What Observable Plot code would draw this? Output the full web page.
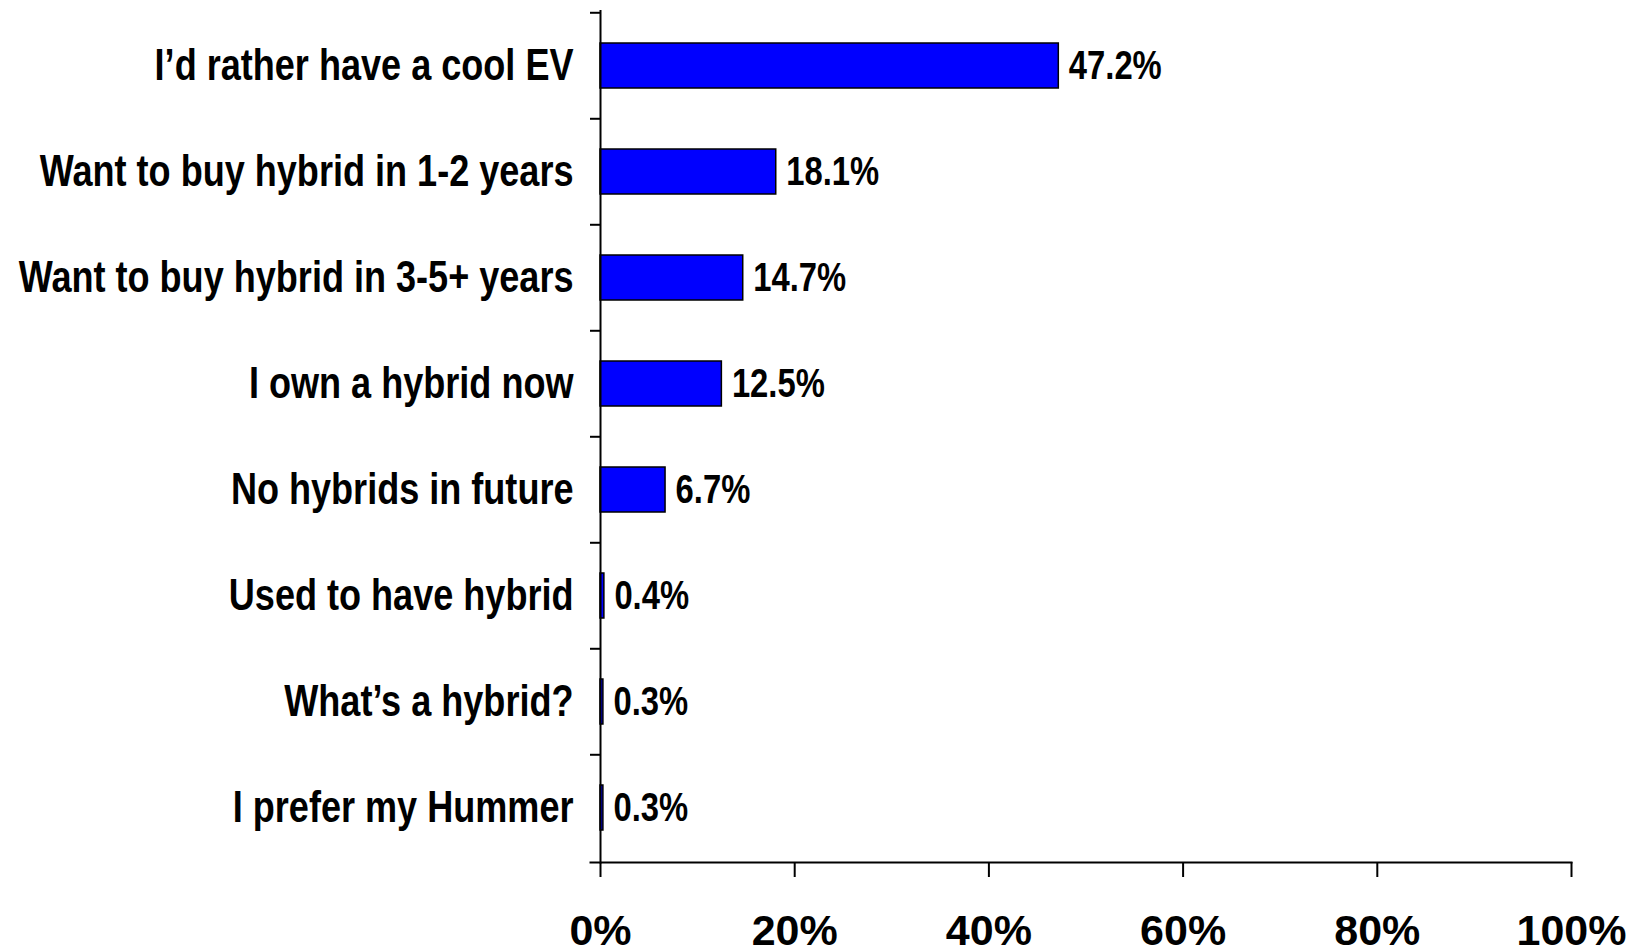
<!DOCTYPE html>
<html>
<head>
<meta charset="utf-8">
<script src="https://cdn.jsdelivr.net/npm/d3@7"></script>
<script src="https://cdn.jsdelivr.net/npm/@observablehq/plot@0.6"></script>
<style>
  html, body { margin: 0; padding: 0; background: #fff; }
  #chart svg { display: block; }
</style>
</head>
<body>
<div id="chart"></div>
<script>
// Survey answers about hybrid vehicles, share of respondents (%)
const categories = [
  "I’d rather have a cool EV",
  "Want to buy hybrid in 1-2 years",
  "Want to buy hybrid in 3-5+ years",
  "I own a hybrid now",
  "No hybrids in future",
  "Used to have hybrid",
  "What’s a hybrid?",
  "I prefer my Hummer"
];
const values = [47.2, 18.1, 14.7, 12.5, 6.7, 0.4, 0.3, 0.3];
const xTicks = [0, 20, 40, 60, 80, 100];

const data = categories.map((c, i) => ({category: c, value: values[i]}));

const W = 1643, H = 949;
const mTop = 10.5, mBottom = 87, mLeft = 600, mRight = 72;
const step = (H - mTop - mBottom) / categories.length;

const sans = "'Liberation Sans', Arial, Helvetica, sans-serif";

const chart = Plot.plot({
  width: W,
  height: H,
  marginTop: mTop,
  marginBottom: mBottom,
  marginLeft: mLeft,
  marginRight: mRight,
  style: {background: "#fff", color: "#000"},
  x: {domain: [0, 100], label: null},
  y: {domain: categories, paddingInner: 0.58, paddingOuter: 0.29, label: null},
  marks: [
    Plot.barX(data, {x: "value", y: "category", fill: "#0000ff", stroke: "#000", strokeWidth: 1.5}),
    Plot.text(data, {
      x: "value", y: "category",
      text: d => d.value.toFixed(1) + "%",
      textAnchor: "start", dx: 10,
      fontFamily: sans, fontWeight: "bold", fontSize: 40, fill: "#000",
      className: "narrow"
    }),
    // category labels
    Plot.axisY({tickSize: 0, tickPadding: 27, label: null, fontFamily: sans, fontWeight: "bold", fontSize: 44, fill: "#000", className: "narrow"}),
    // separators between categories
    Plot.axisY({text: null, label: null, tickSize: 10, dy: -step / 2, strokeWidth: 2, stroke: "#000"}),
    Plot.axisX({
      ticks: xTicks, tickFormat: d => d + "%", tickSize: 15, tickPadding: 37, label: null,
      strokeWidth: 2, stroke: "#000",
      fontFamily: sans, fontWeight: "bold", fontSize: 43, fill: "#000"
    }),
    Plot.frame({anchor: "left", stroke: "#000", strokeWidth: 2}),
    Plot.frame({anchor: "bottom", insetLeft: -10, stroke: "#000", strokeWidth: 2})
  ]
});

// condensed lettering: each text is already translated to its anchor,
// so a horizontal scale squeezes the glyphs about that anchor
const squeeze = 0.82;
chart.querySelectorAll("g.narrow text").forEach(t => {
  const prev = t.getAttribute("transform") || "";
  t.setAttribute("transform", `${prev} scale(${squeeze},1)`.trim());
});

document.getElementById("chart").appendChild(chart);
</script>
</body>
</html>
